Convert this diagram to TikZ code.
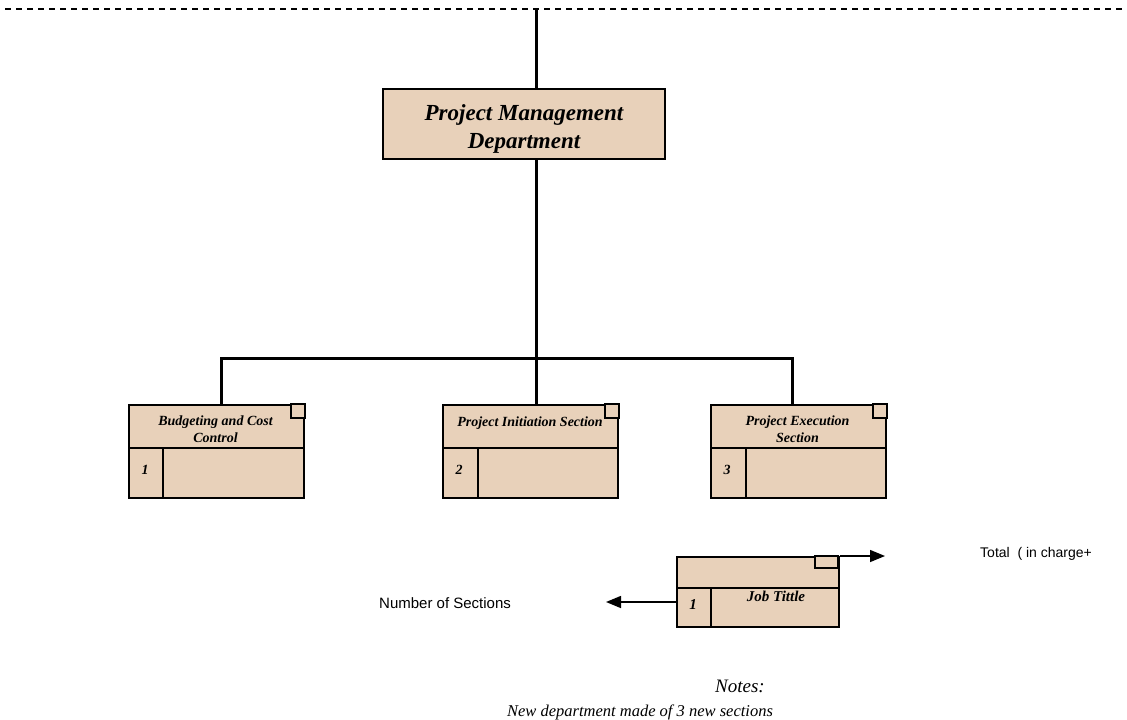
\documentclass[tikz,border=0pt]{standalone}
\usepackage{fontspec}
\setmainfont{Liberation Serif}
\setsansfont{Liberation Sans}
\usetikzlibrary{arrows.meta}
\definecolor{boxfill}{RGB}{232,209,186}
\begin{document}
\begin{tikzpicture}[x=1pt,y=-1pt,
  conn/.style={line width=3pt},
  bline/.style={line width=1.6pt},
  arr/.style={line width=1.5pt,-{Triangle[length=15pt,width=12pt]}},
  mainbox/.style={draw,line width=1.6pt,fill=boxfill,minimum width=282pt,minimum height=70pt,inner sep=0pt},
  maintext/.style={font=\bfseries\itshape\fontsize{23}{28}\selectfont,inner sep=0pt,anchor=base},
  sect/.style={draw,line width=1.6pt,fill=boxfill,minimum width=175pt,minimum height=93pt,inner sep=0pt,anchor=north west},
  corner/.style={draw,line width=1.4pt,fill=boxfill},
  lbl/.style={font=\bfseries\itshape\fontsize{14}{16.5}\selectfont,align=center,inner sep=0pt},
  leglbl/.style={font=\bfseries\itshape\fontsize{15}{17}\selectfont,inner sep=0pt,anchor=base},
  sans/.style={font=\sffamily\fontsize{14}{17}\selectfont,inner sep=0pt},
  note/.style={font=\itshape\fontsize{16.5}{20}\selectfont,inner sep=0pt}
]
\useasboundingbox (0,0) rectangle (1127,720);

% top dashed line
\coordinate (dl) at (5,9);
\coordinate (dr) at (1127,9);
\draw[line width=1.5pt,dash pattern=on 6pt off 5pt] (dl) -- (dr);

% main box
\node[mainbox] (main) at (524,124) {};
\node[maintext] (mt1) at (524,120) {Project Management};
\node[maintext] (mt2) at (524,148) {Department};

% section boxes
\node[sect] (s1) at (128,404) {};
\node[sect] (s2) at (442,404) {};
\node[sect] (s3) at (710,404) {};

% internal lines
\draw[bline] (128,448) -- (303,448) (163,448) -- (163,497);
\draw[bline] (442,448) -- (617,448) (478,448) -- (478,497);
\draw[bline] (710,448) -- (885,448) (746,448) -- (746,497);
\draw[corner] (291,404) rectangle (305,418);
\draw[corner] (605,404) rectangle (619,418);
\draw[corner] (873,404) rectangle (887,418);

% header texts
\node[lbl,anchor=north] (t1) at (215.5,416) {Budgeting and Cost\\Control};
\node[lbl,anchor=north] (t2) at (530,416.5) {Project Initiation Section};
\node[lbl,anchor=north] (t3) at (797.5,416) {Project Execution\\Section};
\node[lbl,anchor=base] (n1) at (145,474) {1};
\node[lbl,anchor=base] (n2) at (459,474) {2};
\node[lbl,anchor=base] (n3) at (727,474) {3};

% connectors
\coordinate (top) at (536,9);
\coordinate (b1) at (221,358);
\coordinate (b3) at (792,358);
\draw[conn] (top) -- (top |- main.north);
\draw[conn] (main.south -| top) -- (s2.north -| top);
\draw[conn] (s1.north -| b1) -- (b1) -- (b3) -- (s3.north -| b3);

% legend box
\node[draw,line width=1.6pt,fill=boxfill,minimum width=162pt,minimum height=70pt,inner sep=0pt,anchor=north west] (leg) at (676,556) {};
\draw[bline] (676,588) -- (838,588) (711,588) -- (711,626);
\draw[corner] (815,556) rectangle (838,568);
\node[leglbl] (jt) at (776,601) {Job Tittle};
\node[leglbl] (ln) at (693,609) {1};

\coordinate (tt) at (885,556);
\coordinate (ns) at (606,602);
\draw[arr] (leg.north east) -- (tt);
\draw[arr] (leg.west |- ns) -- (ns);

\node[sans,anchor=base west] (total) at (980,557) {Total\ \ ( in charge+};
\node[sans,anchor=base west,font=\sffamily\fontsize{15}{17}\selectfont] (nsec) at (379,608) {Number of Sections};

% notes
\node[note,anchor=base east,font=\itshape\fontsize{19}{22}\selectfont] (notes) at (765,692) {Notes:};
\node[note,anchor=base] (notes2) at (640,716) {New department made of 3 new sections};
\end{tikzpicture}
\end{document}
